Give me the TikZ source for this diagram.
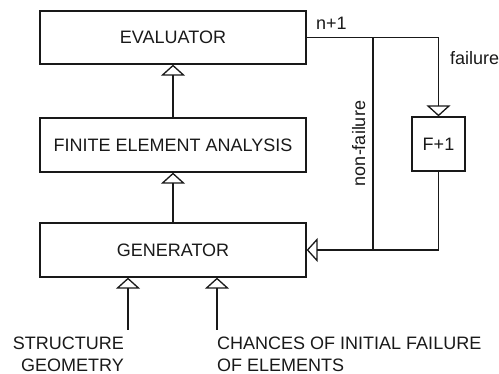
\documentclass[tikz,border=0pt]{standalone}
\usepackage{fontspec}
\setmainfont{Liberation Sans}
\usetikzlibrary{arrows.meta}
\tikzset{
  blk/.style={draw, line width=1.3pt, inner sep=0pt, minimum height=53pt, font=\fontsize{18}{22}\selectfont},
  wire/.style={line width=1.3pt},
  tri/.style={wire, -{Triangle[open, length=11pt, width=24pt]}},
  lbl/.style={inner sep=0pt, font=\fontsize{18}{22}\selectfont},
}
\begin{document}
\begin{tikzpicture}[x=1pt, y=-1pt, color={black!90}]
\useasboundingbox (0,0) rectangle (499,374);
\node[blk, minimum width=266pt] (eval) at (173,37.5) {EVALUATOR};
\node[blk, minimum width=266pt, minimum height=54pt] (fea) at (173,145) {FINITE ELEMENT ANALYSIS};
\node[blk, minimum width=266pt, minimum height=54pt] (gen) at (173,250) {GENERATOR};
\node[blk, minimum width=53pt, minimum height=54pt] (fp) at (438.5,144) {F+1};
\draw[tri] (fea) -- (eval);
\draw[tri] (gen) -- (fea);
\draw[tri] (eval.east) -| (fp.north);
\draw[tri] (fp.south) |- (gen.east);
\coordinate (j1) at (373,37.5);
\draw[wire] (j1) -- (j1 |- gen.east);
\coordinate (s1) at (128,330);
\coordinate (s2) at (217,330);
\draw[tri] (s1) -- (s1 |- gen.south);
\draw[tri] (s2) -- (s2 |- gen.south);
\node[lbl, anchor=base west] (n1) at (316,30) {n+1};
\node[lbl, anchor=base west] (fl) at (450,65) {failure};
\node[lbl, rotate=90, anchor=base] (nf) at (365,143.5) {non-failure};
\node[lbl, align=right, anchor=north east] (sg) at (124,337) {STRUCTURE\\GEOMETRY};
\node[lbl, align=left, anchor=north west] (ch) at (217,337) {CHANCES OF INITIAL FAILURE\\OF ELEMENTS};
\end{tikzpicture}
\end{document}
